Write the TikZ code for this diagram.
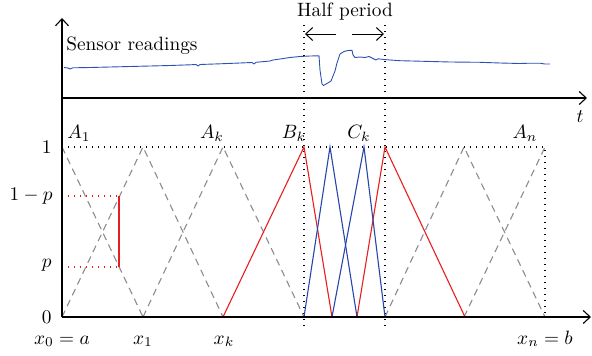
\documentclass[tikz,border=0pt]{standalone}
\usetikzlibrary{arrows.meta}
\definecolor{myred}{RGB}{232,30,30}
\definecolor{myblue}{RGB}{40,70,170}
\definecolor{curveblue}{RGB}{45,80,180}
\definecolor{mygray}{RGB}{140,140,140}
\begin{document}
\begin{tikzpicture}[x=1pt,y=-1pt,
  every node/.style={inner sep=0pt, scale=1.93},
  axis/.style={line width=1.4pt, -{Straight Barb[length=7pt,width=13pt,line width=1.1pt]}},
  greydash/.style={mygray, line width=1.1pt, dash pattern=on 7pt off 5pt},
  redline/.style={myred, line width=1.1pt},
  blueline/.style={myblue, line width=1.1pt},
  dotline/.style={line width=1.2pt, dash pattern=on 1.2pt off 4.8pt},
  reddot/.style={myred, line width=1.2pt, dash pattern=on 1.2pt off 4.8pt},
  harrow/.style={line width=1pt, -{Straight Barb[length=7pt,width=13pt,line width=1pt]}}]
\useasboundingbox (0,0) rectangle (592,356);

% coordinates
\coordinate (O) at (62,317);
\coordinate (ytop) at (62,18);
\coordinate (tend) at (587,98);
\coordinate (taxis) at (62,98);
\coordinate (xend) at (591,317);

% dotted guides
\draw[dotline] (62,147) -- (545,147) -- (545,317);
\draw[dotline] (304,25) -- (304,328);
\draw[dotline] (385,25) -- (385,328);
\draw[reddot] (62,196) -- (119,196);
\draw[reddot] (62,267) -- (119,267);

% grey dashed memberships
\draw[greydash] (62,147) -- (143,317);
\draw[greydash] (62,317) -- (143,147) -- (223,317);
\draw[greydash] (143,317) -- (223,147) -- (304,317);
\draw[greydash] (385,317) -- (464,147) -- (545,317);
\draw[greydash] (464,317) -- (545,147);

% red memberships
\draw[redline] (223,317) -- (304,147) -- (332,317);
\draw[redline] (357,317) -- (385,147) -- (465,317);
\draw[redline] (119,196) -- (119,267);

% blue memberships
\draw[blueline] (304,317) -- (330,147) -- (357,317);
\draw[blueline] (332,317) -- (364,147) -- (385,317);

% axes
\draw[axis] (O) -- (ytop);
\draw[axis] (taxis) -- (tend);
\draw[axis] (O) -- (xend);

% sensor curve
\draw[curveblue, line width=0.9pt, line join=round]
 (64,67.5) -- (68,68) -- (70,69) -- (73,67.8) -- (90,67.5) -- (110,67) -- (130,66.5)
 -- (150,66) -- (170,65.5) -- (190,64.8) -- (196,64.5) -- (198,66) -- (200,64.5)
 -- (220,63.8) -- (240,63) -- (252,62.5) -- (254,64) -- (256,62.3) -- (270,61)
 -- (273,60) -- (280,59) -- (290,57.5) -- (300,56.5) -- (310,56) -- (319,55.8)
 -- (320,70) -- (322,84) -- (323.5,85.5) -- (327,83.5) -- (331,81) -- (333,76)
 -- (335,71) -- (337,63) -- (340,54) -- (344,51.5) -- (348,50.5) -- (352,50.3)
 -- (353,55) -- (355,57.5) -- (360,57) -- (365,57.5) -- (369,56.5) -- (372,58)
 -- (376,60) -- (378,58.8) -- (384,59.5) -- (390,60) -- (400,60.7) -- (420,61.2)
 -- (450,62) -- (480,62.3) -- (500,63) -- (520,63.5) -- (530,63.2) -- (540,63.2)
 -- (545,64) -- (550,64);

% half period arrows
\coordinate (hl1) at (336,34);
\coordinate (hl2) at (305,34);
\coordinate (hr1) at (352,34);
\coordinate (hr2) at (384,34);
\draw[harrow] (hl1) -- (hl2);
\draw[harrow] (hr1) -- (hr2);

% texts
\node (half) at (345,12) {Half period};
\node[anchor=west] (sensor) at (66,46) {Sensor readings};
\node (t) at (580,117) {$t$};
\node (A1) at (79,133) {$A_1$};
\node (Ak) at (212,133) {$A_k$};
\node (Bk) at (294,133) {$B_k$};
\node (Ck) at (359,133) {$C_k$};
\node (An) at (525,133) {$A_n$};
\node[anchor=east] (y1) at (52,147) {$1$};
\node[anchor=east] (y1p) at (53,196) {$1-p$};
\node[anchor=east] (yp) at (52,265) {$p$};
\node[anchor=east] (y0) at (52,317) {$0$};
\node[anchor=base] (x0) at (62,344) {$x_0=a$};
\node[anchor=base] (x1) at (143,344) {$x_1$};
\node[anchor=base] (xk) at (224,344) {$x_k$};
\node[anchor=base] (xn) at (545,344) {$x_n=b$};
\end{tikzpicture}
\end{document}
